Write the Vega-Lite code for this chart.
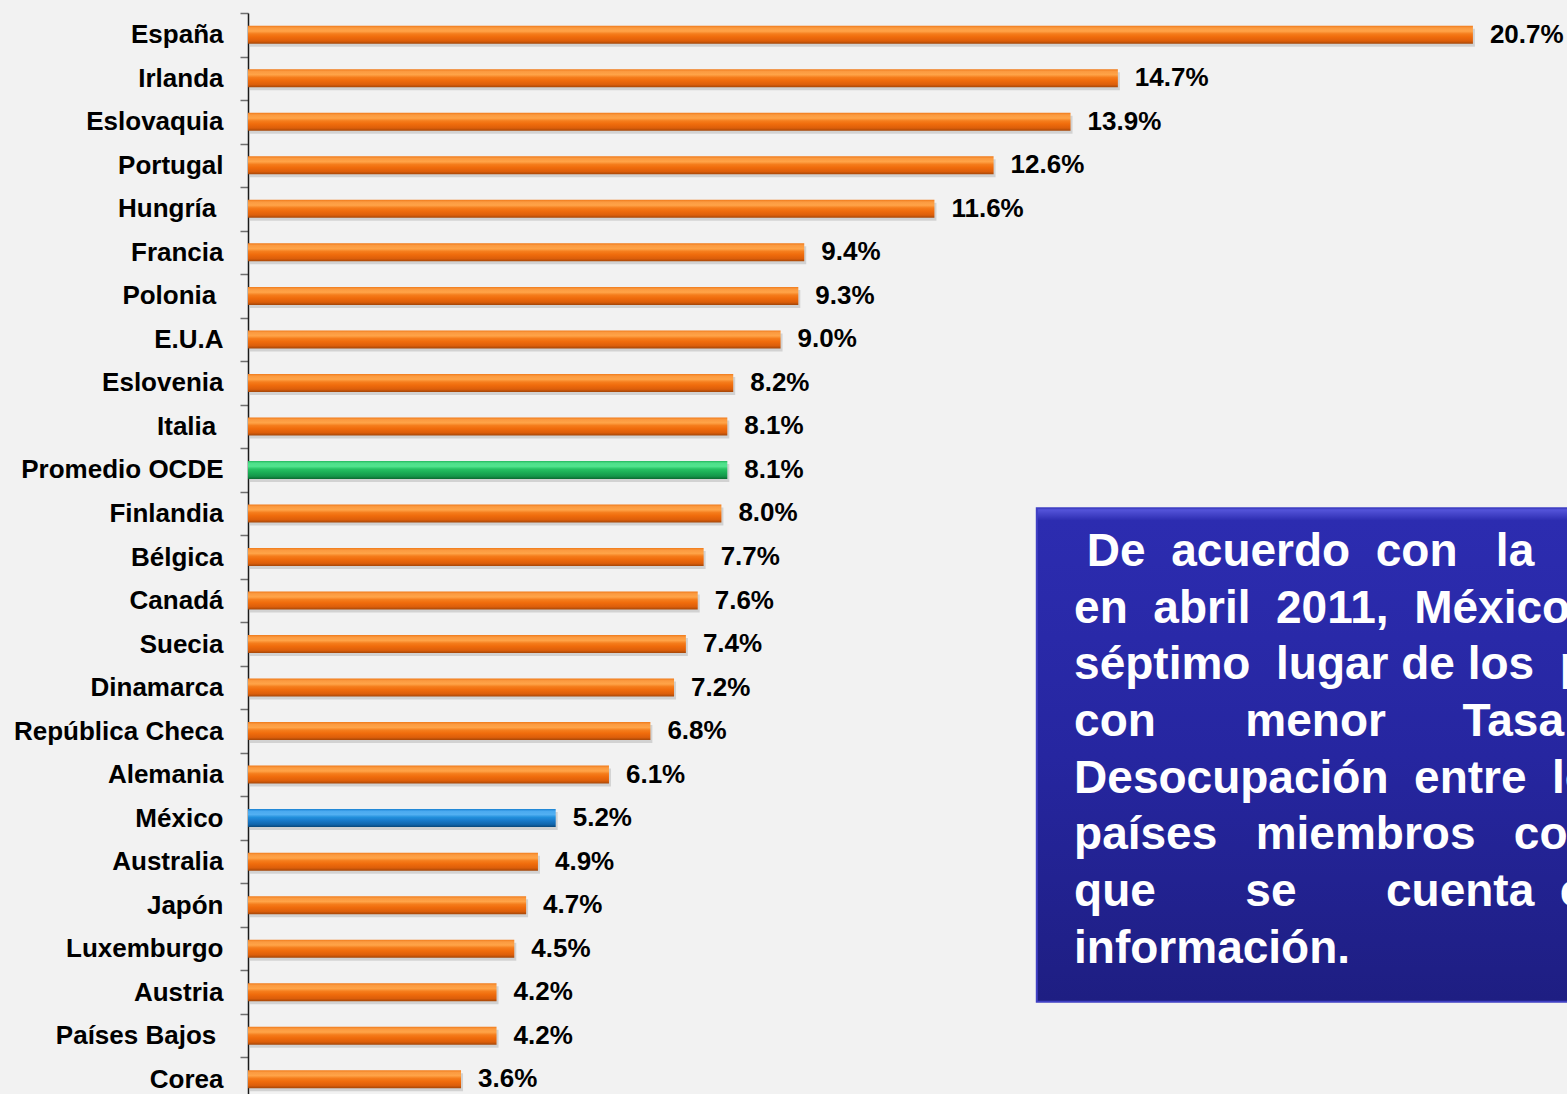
{
  "$schema": "https://vega.github.io/schema/vega-lite/v6.json",
  "width": 1319,
  "height": 1088,
  "autosize": "none",
  "padding": {"left": 248, "top": 13, "right": 0, "bottom": 0},
  "background": "#f2f2f2",
  "config": {"view": {"stroke": null}, "font": "Liberation Sans"},
  "datasets": {
    "paises": [
      {"pais": "España", "tasa": 0.207, "grupo": "pais"},
      {"pais": "Irlanda", "tasa": 0.147, "grupo": "pais"},
      {"pais": "Eslovaquia", "tasa": 0.139, "grupo": "pais"},
      {"pais": "Portugal", "tasa": 0.126, "grupo": "pais"},
      {"pais": "Hungría", "tasa": 0.116, "grupo": "pais"},
      {"pais": "Francia", "tasa": 0.094, "grupo": "pais"},
      {"pais": "Polonia", "tasa": 0.093, "grupo": "pais"},
      {"pais": "E.U.A", "tasa": 0.090, "grupo": "pais"},
      {"pais": "Eslovenia", "tasa": 0.082, "grupo": "pais"},
      {"pais": "Italia", "tasa": 0.081, "grupo": "pais"},
      {"pais": "Promedio OCDE", "tasa": 0.081, "grupo": "ocde"},
      {"pais": "Finlandia", "tasa": 0.080, "grupo": "pais"},
      {"pais": "Bélgica", "tasa": 0.077, "grupo": "pais"},
      {"pais": "Canadá", "tasa": 0.076, "grupo": "pais"},
      {"pais": "Suecia", "tasa": 0.074, "grupo": "pais"},
      {"pais": "Dinamarca", "tasa": 0.072, "grupo": "pais"},
      {"pais": "República Checa", "tasa": 0.068, "grupo": "pais"},
      {"pais": "Alemania", "tasa": 0.061, "grupo": "pais"},
      {"pais": "México", "tasa": 0.052, "grupo": "mexico"},
      {"pais": "Australia", "tasa": 0.049, "grupo": "pais"},
      {"pais": "Japón", "tasa": 0.047, "grupo": "pais"},
      {"pais": "Luxemburgo", "tasa": 0.045, "grupo": "pais"},
      {"pais": "Austria", "tasa": 0.042, "grupo": "pais"},
      {"pais": "Países Bajos", "tasa": 0.042, "grupo": "pais"},
      {"pais": "Corea", "tasa": 0.036, "grupo": "pais"}
    ],
    "nota": [
      {"renglon": 1, "texto": "\u200c\u00a0De\u00a0\u00a0acuerdo\u00a0\u00a0con\u00a0\u00a0\u00a0la\u00a0\u00a0\u00a0OCDE,"},
      {"renglon": 2, "texto": "en\u00a0\u00a0abril\u00a0\u00a02011,\u00a0\u00a0México\u00a0\u00a0ocupó\u00a0\u00a0el"},
      {"renglon": 3, "texto": "séptimo\u00a0\u00a0lugar\u00a0de\u00a0los\u00a0\u00a0países"},
      {"renglon": 4, "texto": "con\u00a0\u00a0\u00a0\u00a0\u00a0\u00a0\u00a0menor\u00a0\u00a0\u00a0\u00a0\u00a0\u00a0Tasa\u00a0\u00a0de"},
      {"renglon": 5, "texto": "Desocupación\u00a0\u00a0entre\u00a0\u00a0los"},
      {"renglon": 6, "texto": "países\u00a0\u00a0\u00a0miembros\u00a0\u00a0\u00a0con\u00a0\u00a0los"},
      {"renglon": 7, "texto": "que\u00a0\u00a0\u00a0\u00a0\u00a0\u00a0\u00a0se\u00a0\u00a0\u00a0\u00a0\u00a0\u00a0\u00a0cuenta\u00a0\u00a0con"},
      {"renglon": 8, "texto": "información."}
    ],
    "caja": [
      {"desde": 0.1333, "hasta": 0.26, "arriba": -0.02, "abajo": 8.69}
    ]
  },
  "layer": [
    {
      "data": {"name": "paises"},
      "encoding": {
        "y": {
          "field": "pais",
          "type": "nominal",
          "sort": null,
          "scale": {"paddingInner": 0, "paddingOuter": 0},
          "axis": {
            "title": null,
            "domainColor": "#1a1a1a",
            "domainWidth": 1.5,
            "tickColor": "#6f6f6f",
            "tickWidth": 1.5,
            "tickSize": 8,
            "tickBand": "extent",
            "labelFont": "Liberation Sans",
            "labelFontSize": 26,
            "labelFontWeight": "bold",
            "labelColor": "#000000",
            "labelPadding": 17,
            "labelLimit": 400,
            "labelExpr": "indexof(['Hungría','Polonia','Italia','Países Bajos'], datum.value) >= 0 ? datum.value + '\u00a0\u200c' : datum.value"
          }
        },
        "x": {
          "field": "tasa",
          "type": "quantitative",
          "scale": {"domain": [0, 0.2229], "nice": false, "zero": true},
          "axis": null
        }
      },
      "layer": [
        {
          "mark": {"type": "bar", "size": 18, "yOffset": 3, "xOffset": 2, "fill": "#000000", "opacity": 0.13}
        },
        {
          "transform": [{"filter": "datum.grupo === 'pais'"}],
          "mark": {
            "type": "bar",
            "size": 18,
            "fill": {
              "gradient": "linear", "x1": 0, "y1": 0, "x2": 0, "y2": 1,
              "stops": [
                {"offset": 0, "color": "#f07a1a"},
                {"offset": 0.12, "color": "#fb9a40"},
                {"offset": 0.3, "color": "#ffa448"},
                {"offset": 0.45, "color": "#f57d1c"},
                {"offset": 0.62, "color": "#f06c0c"},
                {"offset": 0.85, "color": "#dc5e0a"},
                {"offset": 1, "color": "#a44608"}
              ]
            }
          }
        },
        {
          "transform": [{"filter": "datum.grupo === 'ocde'"}],
          "mark": {
            "type": "bar",
            "size": 18,
            "fill": {
              "gradient": "linear", "x1": 0, "y1": 0, "x2": 0, "y2": 1,
              "stops": [
                {"offset": 0, "color": "#22b65c"},
                {"offset": 0.12, "color": "#4ee08a"},
                {"offset": 0.3, "color": "#52e48e"},
                {"offset": 0.45, "color": "#27c264"},
                {"offset": 0.62, "color": "#1cb057"},
                {"offset": 0.85, "color": "#14964a"},
                {"offset": 1, "color": "#0c6a30"}
              ]
            }
          }
        },
        {
          "transform": [{"filter": "datum.grupo === 'mexico'"}],
          "mark": {
            "type": "bar",
            "size": 18,
            "fill": {
              "gradient": "linear", "x1": 0, "y1": 0, "x2": 0, "y2": 1,
              "stops": [
                {"offset": 0, "color": "#1a82d2"},
                {"offset": 0.12, "color": "#4aaaf0"},
                {"offset": 0.3, "color": "#52b0f2"},
                {"offset": 0.45, "color": "#2290dc"},
                {"offset": 0.62, "color": "#1a7ccc"},
                {"offset": 0.85, "color": "#1266ac"},
                {"offset": 1, "color": "#0a4678"}
              ]
            }
          }
        },
        {
          "mark": {
            "type": "text",
            "align": "left",
            "baseline": "middle",
            "dx": 17,
            "font": "Liberation Sans",
            "fontSize": 26,
            "fontWeight": "bold",
            "color": "#000000"
          },
          "encoding": {
            "text": {"field": "tasa", "type": "quantitative", "format": ".1%"}
          }
        }
      ]
    },
    {
      "layer": [
        {
          "data": {"name": "caja"},
          "mark": {"type": "rect", "clip": true, "xOffset": 4, "yOffset": 5, "fill": "#000000", "opacity": 0.18},
          "encoding": {
            "x": {"field": "desde", "type": "quantitative", "scale": {"domain": [0, 0.2229], "nice": false, "zero": true}, "axis": null},
            "x2": {"field": "hasta"},
            "y": {"field": "arriba", "type": "quantitative", "scale": {"domain": [-8.758, 10.44], "nice": false, "zero": false, "reverse": true}, "axis": null},
            "y2": {"field": "abajo"}
          }
        },
        {
          "data": {"name": "caja"},
          "mark": {
            "type": "rect",
            "clip": true,
            "stroke": "#4040c4",
            "strokeWidth": 2,
            "fill": {
              "gradient": "linear", "x1": 0, "y1": 0, "x2": 0, "y2": 1,
              "stops": [
                {"offset": 0, "color": "#5a5ae0"},
                {"offset": 0.025, "color": "#2c2cb0"},
                {"offset": 0.5, "color": "#2626a0"},
                {"offset": 1, "color": "#1e1e82"}
              ]
            }
          },
          "encoding": {
            "x": {"field": "desde", "type": "quantitative", "axis": null},
            "x2": {"field": "hasta"},
            "y": {"field": "arriba", "type": "quantitative", "axis": null},
            "y2": {"field": "abajo"}
          }
        },
        {
          "data": {"name": "nota"},
          "mark": {
            "type": "text",
            "clip": true,
            "align": "left",
            "baseline": "alphabetic",
            "font": "Liberation Sans",
            "fontSize": 46,
            "fontWeight": "bold",
            "color": "#ffffff"
          },
          "encoding": {
            "x": {"datum": 0.1396, "type": "quantitative", "axis": null},
            "y": {"field": "renglon", "type": "quantitative", "axis": null},
            "text": {"field": "texto"}
          }
        }
      ]
    }
  ],
  "resolve": {"scale": {"y": "independent"}}
}
